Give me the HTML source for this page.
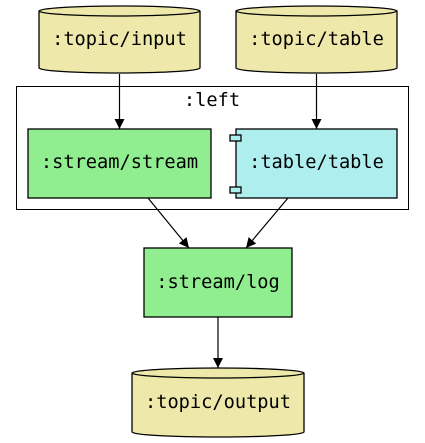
<!DOCTYPE html>
<html><head><meta charset="utf-8"><style>
html,body{margin:0;padding:0;background:#fff;}
svg{display:block;}
text{font-family:"DejaVu Sans Mono","Liberation Mono",monospace;font-size:18.67px;fill:#000;}
</style></head><body>
<svg width="425" height="443" viewBox="0 0 425 443" xmlns="http://www.w3.org/2000/svg">
<defs><marker id="a" viewBox="0 0 10 10" refX="10" refY="5" markerWidth="10" markerHeight="10" markerUnits="userSpaceOnUse" orient="auto"><path d="M0,0 L10,5 L0,10 z" fill="#000"/></marker></defs>
<!-- cluster -->
<rect x="16.5" y="86.5" width="392" height="123" fill="#fff" stroke="#000" stroke-width="1"/>
<text x="212" y="106" text-anchor="middle">:left</text>
<!-- cylinder input -->
<path d="M200,11 V68 A80.5,5 0 0 1 39,68 V11 A80.5,5 0 0 1 200,11 A80.5,5 0 0 1 39,11" fill="#eee8aa" stroke="#000" stroke-width="1.3"/>
<text x="119.5" y="45" text-anchor="middle">:topic/input</text>
<!-- cylinder table -->
<path d="M397,11 V68 A80.5,5 0 0 1 236,68 V11 A80.5,5 0 0 1 397,11 A80.5,5 0 0 1 236,11" fill="#eee8aa" stroke="#000" stroke-width="1.3"/>
<text x="316.5" y="45" text-anchor="middle">:topic/table</text>
<!-- stream box -->
<rect x="28" y="129" width="183" height="69" fill="#90ee90" stroke="#000" stroke-width="1.3"/>
<text x="119.5" y="168" text-anchor="middle">:stream/stream</text>
<!-- table box -->
<rect x="236" y="129" width="161" height="69" fill="#afeeee" stroke="#000" stroke-width="1.3"/>
<rect x="230" y="135" width="11" height="6" fill="#afeeee" stroke="#000" stroke-width="1.3"/>
<rect x="230" y="187" width="11" height="6" fill="#afeeee" stroke="#000" stroke-width="1.3"/>
<text x="316.5" y="168" text-anchor="middle">:table/table</text>
<!-- log box -->
<rect x="144" y="248" width="148" height="69" fill="#90ee90" stroke="#000" stroke-width="1.3"/>
<text x="218" y="288" text-anchor="middle">:stream/log</text>
<!-- output cylinder -->
<path d="M304,373 V432 A86,5 0 0 1 132,432 V373 A86,5 0 0 1 304,373 A86,5 0 0 1 132,373" fill="#eee8aa" stroke="#000" stroke-width="1.3"/>
<text x="218" y="408" text-anchor="middle">:topic/output</text>
<!-- edges -->
<g stroke="#000" stroke-width="1.2" fill="none">
<line x1="119.5" y1="74" x2="119.5" y2="129" marker-end="url(#a)"/>
<line x1="316.5" y1="74" x2="316.5" y2="129" marker-end="url(#a)"/>
<line x1="148" y1="198" x2="189" y2="248" marker-end="url(#a)"/>
<line x1="288" y1="198" x2="246" y2="248" marker-end="url(#a)"/>
<line x1="218" y1="317" x2="218" y2="368" marker-end="url(#a)"/>
</g>
</svg>
</body></html>
